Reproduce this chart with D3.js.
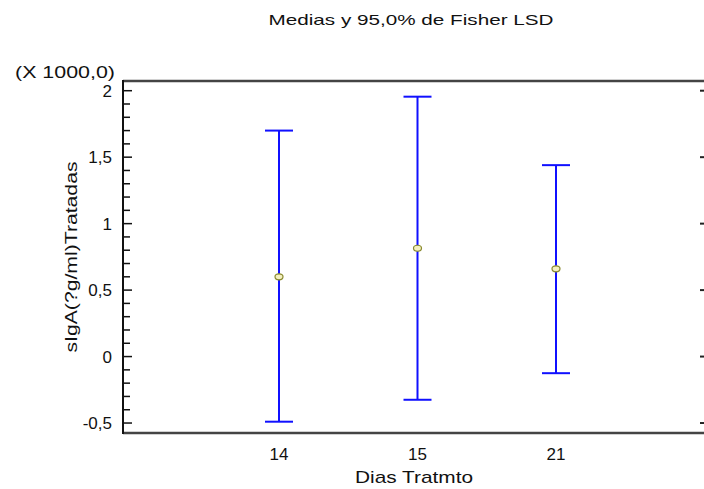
<!DOCTYPE html>
<html>
<head>
<meta charset="utf-8">
<script src="https://cdn.jsdelivr.net/npm/d3@7"></script>
<style>
  body { margin: 0; background: #fff; }
  text { font-family: "Liberation Sans", Arial, sans-serif; fill: #111; }
</style>
</head>
<body>
<div id="chart"></div>
<script>
// data (values in X 1000)
var categories = ["14", "15", "21"];
var means = [0.60, 0.815, 0.66];
var lower = [-0.49, -0.325, -0.125];
var upper = [1.70, 1.955, 1.44];
var yTicks = [-0.5, 0, 0.5, 1, 1.5, 2];
var yTickLabels = ["-0,5", "0", "0,5", "1", "1,5", "2"];

var width = 704, height = 489;
var plotLeft = 123, plotRight = 704, plotTop = 81, plotBottom = 433;

var svg = d3.select("#chart").append("svg")
    .attr("width", width)
    .attr("height", height);

var y = d3.scaleLinear().domain([-0.575, 2.073]).range([plotBottom, plotTop]);
var x = d3.scalePoint().domain(categories).range([279, 556]);

// title
svg.append("text")
  .attr("x", 411).attr("y", 25)
  .attr("text-anchor", "middle")
  .attr("textLength", 285).attr("lengthAdjust", "spacingAndGlyphs")
  .style("font-size", "15px")
  .text("Medias y 95,0% de Fisher LSD");

// multiplier label
svg.append("text")
  .attr("x", 15).attr("y", 78)
  .attr("textLength", 100).attr("lengthAdjust", "spacingAndGlyphs")
  .style("font-size", "16px")
  .text("(X 1000,0)");

// frame lines top / bottom
svg.append("line")
  .attr("x1", plotLeft).attr("x2", plotRight).attr("y1", plotTop).attr("y2", plotTop)
  .attr("stroke", "#444").attr("stroke-width", 2.5);
svg.append("line")
  .attr("x1", plotLeft).attr("x2", plotRight).attr("y1", plotBottom).attr("y2", plotBottom)
  .attr("stroke", "#444").attr("stroke-width", 2.5);

// left axis
svg.append("line")
  .attr("x1", plotLeft).attr("x2", plotLeft).attr("y1", plotTop - 1).attr("y2", plotBottom + 1)
  .attr("stroke", "#111").attr("stroke-width", 2);

var minor = d3.range(-5, 21).map(function(d) { return d / 10; });
svg.selectAll(".ytick")
  .data(minor)
  .enter().append("line")
  .attr("x1", plotLeft)
  .attr("x2", function(d, i) { return (i % 5 === 0) ? plotLeft + 9 : plotLeft + 7; })
  .attr("y1", function(d) { return y(d); })
  .attr("y2", function(d) { return y(d); })
  .attr("stroke", "#111").attr("stroke-width", 1.5);

svg.selectAll(".ylab")
  .data(yTicks)
  .enter().append("text")
  .attr("x", 112)
  .attr("y", function(d) { return y(d) + 6; })
  .attr("text-anchor", "end")
  .style("font-size", "17px")
  .text(function(d, i) { return yTickLabels[i]; });

// right ticks
svg.selectAll(".rtick")
  .data(yTicks)
  .enter().append("line")
  .attr("x1", plotRight - 4).attr("x2", plotRight)
  .attr("y1", function(d) { return y(d); })
  .attr("y2", function(d) { return y(d); })
  .attr("stroke", "#222").attr("stroke-width", 2);

// y axis title
svg.append("text")
  .attr("transform", "translate(77,257) rotate(-90)")
  .attr("text-anchor", "middle")
  .attr("textLength", 191).attr("lengthAdjust", "spacingAndGlyphs")
  .style("font-size", "16px")
  .text("sIgA(?g/ml)Tratadas");

// x tick labels
svg.selectAll(".xlab")
  .data(categories)
  .enter().append("text")
  .attr("x", function(d) { return x(d); })
  .attr("y", 460)
  .attr("text-anchor", "middle")
  .style("font-size", "17px")
  .text(function(d) { return d; });

svg.append("text")
  .attr("x", 414).attr("y", 483)
  .attr("text-anchor", "middle")
  .attr("textLength", 118).attr("lengthAdjust", "spacingAndGlyphs")
  .style("font-size", "17px")
  .text("Dias Tratmto");

// error bars
var bars = svg.selectAll(".bar")
  .data(categories)
  .enter().append("g");

bars.append("line")
  .attr("x1", function(d) { return x(d); })
  .attr("x2", function(d) { return x(d); })
  .attr("y1", function(d, i) { return y(upper[i]); })
  .attr("y2", function(d, i) { return y(lower[i]); })
  .attr("stroke", "#1010ff").attr("stroke-width", 2);

bars.append("line")
  .attr("x1", function(d) { return x(d) - 14; })
  .attr("x2", function(d) { return x(d) + 14; })
  .attr("y1", function(d, i) { return y(upper[i]); })
  .attr("y2", function(d, i) { return y(upper[i]); })
  .attr("stroke", "#1010ff").attr("stroke-width", 2);

bars.append("line")
  .attr("x1", function(d) { return x(d) - 14; })
  .attr("x2", function(d) { return x(d) + 14; })
  .attr("y1", function(d, i) { return y(lower[i]); })
  .attr("y2", function(d, i) { return y(lower[i]); })
  .attr("stroke", "#1010ff").attr("stroke-width", 2);

bars.append("ellipse")
  .attr("cx", function(d) { return x(d); })
  .attr("cy", function(d, i) { return y(means[i]); })
  .attr("rx", 4).attr("ry", 3)
  .attr("fill", "#f4f0c0")
  .attr("stroke", "#8a8a30").attr("stroke-width", 1.2);
</script>
</body>
</html>
